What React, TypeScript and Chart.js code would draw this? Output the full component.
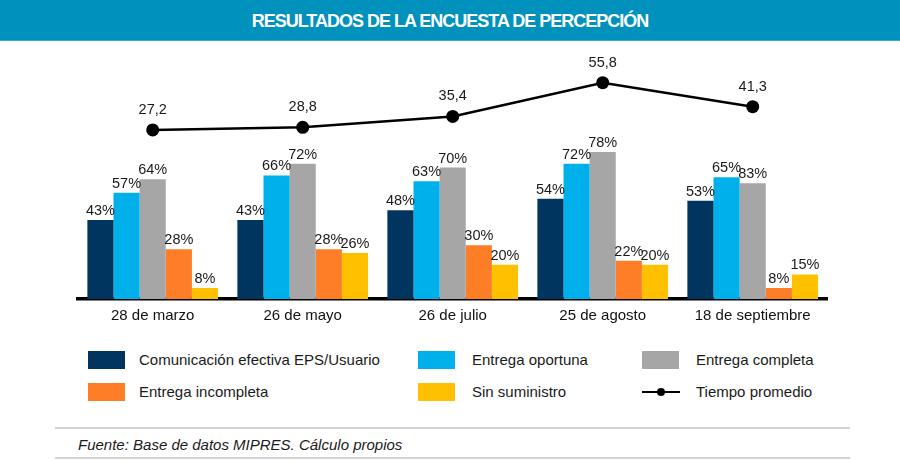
import { useEffect, useRef } from "react";
import { Chart, registerables } from "chart.js";

Chart.register(...registerables);

const fechas = ["28 de marzo", "26 de mayo", "26 de julio", "25 de agosto", "18 de septiembre"];

const comunicacion = [43, 43, 48, 54, 53];
const oportuna = [57, 66, 63, 72, 65];
// the last gray bar is drawn at ~62 in the source, though it is labelled 83%
const completa = [64, 72, 70, 78, 62];
const completaEtiquetas = ["64%", "72%", "70%", "78%", "83%"];
const incompleta = [28, 28, 30, 22, 8];
const sinSuministro = [8, 26, 20, 20, 15];
const tiempoPromedio = [27.2, 28.8, 35.4, 55.8, 41.3];

const colores = {
	comunicacion: "#00355f",
	oportuna: "#00b0ea",
	completa: "#a6a6a6",
	incompleta: "#fd7e27",
	sinSuministro: "#ffc000",
};

const FONT = "'Liberation Sans', Arial, sans-serif";

const etiquetasPlugin = {
	id: "etiquetas",
	afterDatasetsDraw(chart: Chart) {
		const ctx = chart.ctx;
		ctx.save();
		ctx.font = `14.5px ${FONT}`;
		ctx.fillStyle = "#1a1a1a";
		ctx.textAlign = "center";
		ctx.textBaseline = "alphabetic";
		chart.data.datasets.forEach((ds: any, i: number) => {
			const meta = chart.getDatasetMeta(i);
			meta.data.forEach((el: any, j: number) => {
				if (ds.type === "line") {
					const txt = (ds.data[j] as number).toFixed(1).replace(".", ",");
					ctx.fillText(txt, el.x, el.y - 16);
				} else {
					const txt = ds.etiquetas ? ds.etiquetas[j] : `${ds.data[j]}%`;
					ctx.fillText(txt, el.x, el.y - 5);
				}
			});
		});
		ctx.restore();
	},
};

function Encuesta() {
	const chartRef = useRef<HTMLCanvasElement | null>(null);
	const chartInstance = useRef<Chart | null>(null);

	useEffect(() => {
		if (!chartRef.current) return;
		const ctx = chartRef.current.getContext("2d");
		if (!ctx) return;

		if (chartInstance.current) chartInstance.current.destroy();

		const barra = (label: string, data: number[], color: string, extra = {}) => ({
			type: "bar" as const,
			label,
			data,
			backgroundColor: color,
			borderWidth: 0,
			yAxisID: "y",
			order: 1,
			...extra,
		});

		chartInstance.current = new Chart(ctx, {
			data: {
				labels: fechas,
				datasets: [
					{
						type: "line",
						label: "Tiempo promedio",
						data: tiempoPromedio,
						borderColor: "#000",
						backgroundColor: "#000",
						borderWidth: 2.5,
						pointRadius: 6.5,
						pointBorderWidth: 0,
						pointBackgroundColor: "#000",
						tension: 0,
						yAxisID: "y2",
						order: 0,
					},
					barra("Comunicación efectiva EPS/Usuario", comunicacion, colores.comunicacion),
					barra("Entrega oportuna", oportuna, colores.oportuna),
					barra("Entrega completa", completa, colores.completa, { etiquetas: completaEtiquetas }),
					barra("Entrega incompleta", incompleta, colores.incompleta),
					barra("Sin suministro", sinSuministro, colores.sinSuministro),
				] as any,
			},
			options: {
				responsive: false,
				animation: false,
				layout: { padding: { top: 20, left: 77.7, right: 72.3, bottom: 0 } },
				datasets: {
					bar: { categoryPercentage: 0.871, barPercentage: 1 },
				},
				plugins: {
					legend: { display: false },
					tooltip: { enabled: false },
					title: { display: false },
				},
				scales: {
					x: {
						grid: { display: false, drawTicks: false },
						border: { display: true, color: "#000", width: 3.5 },
						ticks: {
							color: "#111",
							padding: 8,
							font: { family: FONT, size: 15 },
						},
					},
					y: { display: false, min: 2.37, max: 125.4 },
					y2: { display: false, min: -75, max: 69.5 },
				},
			},
			plugins: [etiquetasPlugin],
		});

		return () => {
			if (chartInstance.current) {
				chartInstance.current.destroy();
				chartInstance.current = null;
			}
		};
	}, []);

	return <canvas ref={chartRef} width={900} height={293} style={{ display: "block" }} />;
}

const leyenda = [
	{ label: "Comunicación efectiva EPS/Usuario", color: colores.comunicacion, sx: 88, tx: 139, row: 0 },
	{ label: "Entrega oportuna", color: colores.oportuna, sx: 418, tx: 472, row: 0 },
	{ label: "Entrega completa", color: colores.completa, sx: 642, tx: 696, row: 0 },
	{ label: "Entrega incompleta", color: colores.incompleta, sx: 88, tx: 139, row: 1 },
	{ label: "Sin suministro", color: colores.sinSuministro, sx: 418, tx: 472, row: 1 },
	{ label: "Tiempo promedio", color: "", sx: 642, tx: 696, row: 1 },
];

export default function App() {
	useEffect(() => {
		document.body.style.margin = "0";
	}, []);

	return (
		<div
			style={{
				position: "relative",
				width: 900,
				height: 460,
				overflow: "hidden",
				background: "#fff",
				fontFamily: FONT,
				color: "#1a1a1a",
			}}
		>
			<div
				style={{
					position: "absolute",
					left: 0,
					top: 0,
					width: 900,
					height: 40,
					background: "#0092bc",
					borderBottom: "1px solid #3fa9cf",
					color: "#fff",
					fontWeight: "bold",
					fontSize: 18,
					letterSpacing: -1,
					lineHeight: "42px",
					textAlign: "center",
				}}
			>
				RESULTADOS DE LA ENCUESTA DE PERCEPCIÓN
			</div>
			<div style={{ position: "absolute", left: 0, top: 40 }}>
				<Encuesta />
			</div>
			{leyenda.map((item) => {
				const cy = item.row === 0 ? 359.5 : 391.5;
				return (
					<div key={item.label}>
						{item.color ? (
							<div
								style={{
									position: "absolute",
									left: item.sx,
									top: cy - 9,
									width: 37,
									height: 18,
									background: item.color,
								}}
							/>
						) : (
							<>
								<div
									style={{
										position: "absolute",
										left: item.sx,
										top: cy - 1,
										width: 38,
										height: 2,
										background: "#000",
									}}
								/>
								<div
									style={{
										position: "absolute",
										left: item.sx + 15,
										top: cy - 4,
										width: 8,
										height: 8,
										borderRadius: "50%",
										background: "#000",
									}}
								/>
							</>
						)}
						<div
							style={{
								position: "absolute",
								left: item.tx,
								top: cy - 10,
								height: 20,
								lineHeight: "20px",
								fontSize: 15,
								whiteSpace: "nowrap",
							}}
						>
							{item.label}
						</div>
					</div>
				);
			})}
			<div style={{ position: "absolute", left: 55, top: 427, width: 795, height: 2, background: "#d4d4d4" }} />
			<div
				style={{
					position: "absolute",
					left: 78,
					top: 435,
					lineHeight: "20px",
					fontSize: 15,
					fontStyle: "italic",
					whiteSpace: "nowrap",
				}}
			>
				Fuente: Base de datos MIPRES. Cálculo propios
			</div>
			<div style={{ position: "absolute", left: 55, top: 457, width: 795, height: 2, background: "#d4d4d4" }} />
		</div>
	);
}
